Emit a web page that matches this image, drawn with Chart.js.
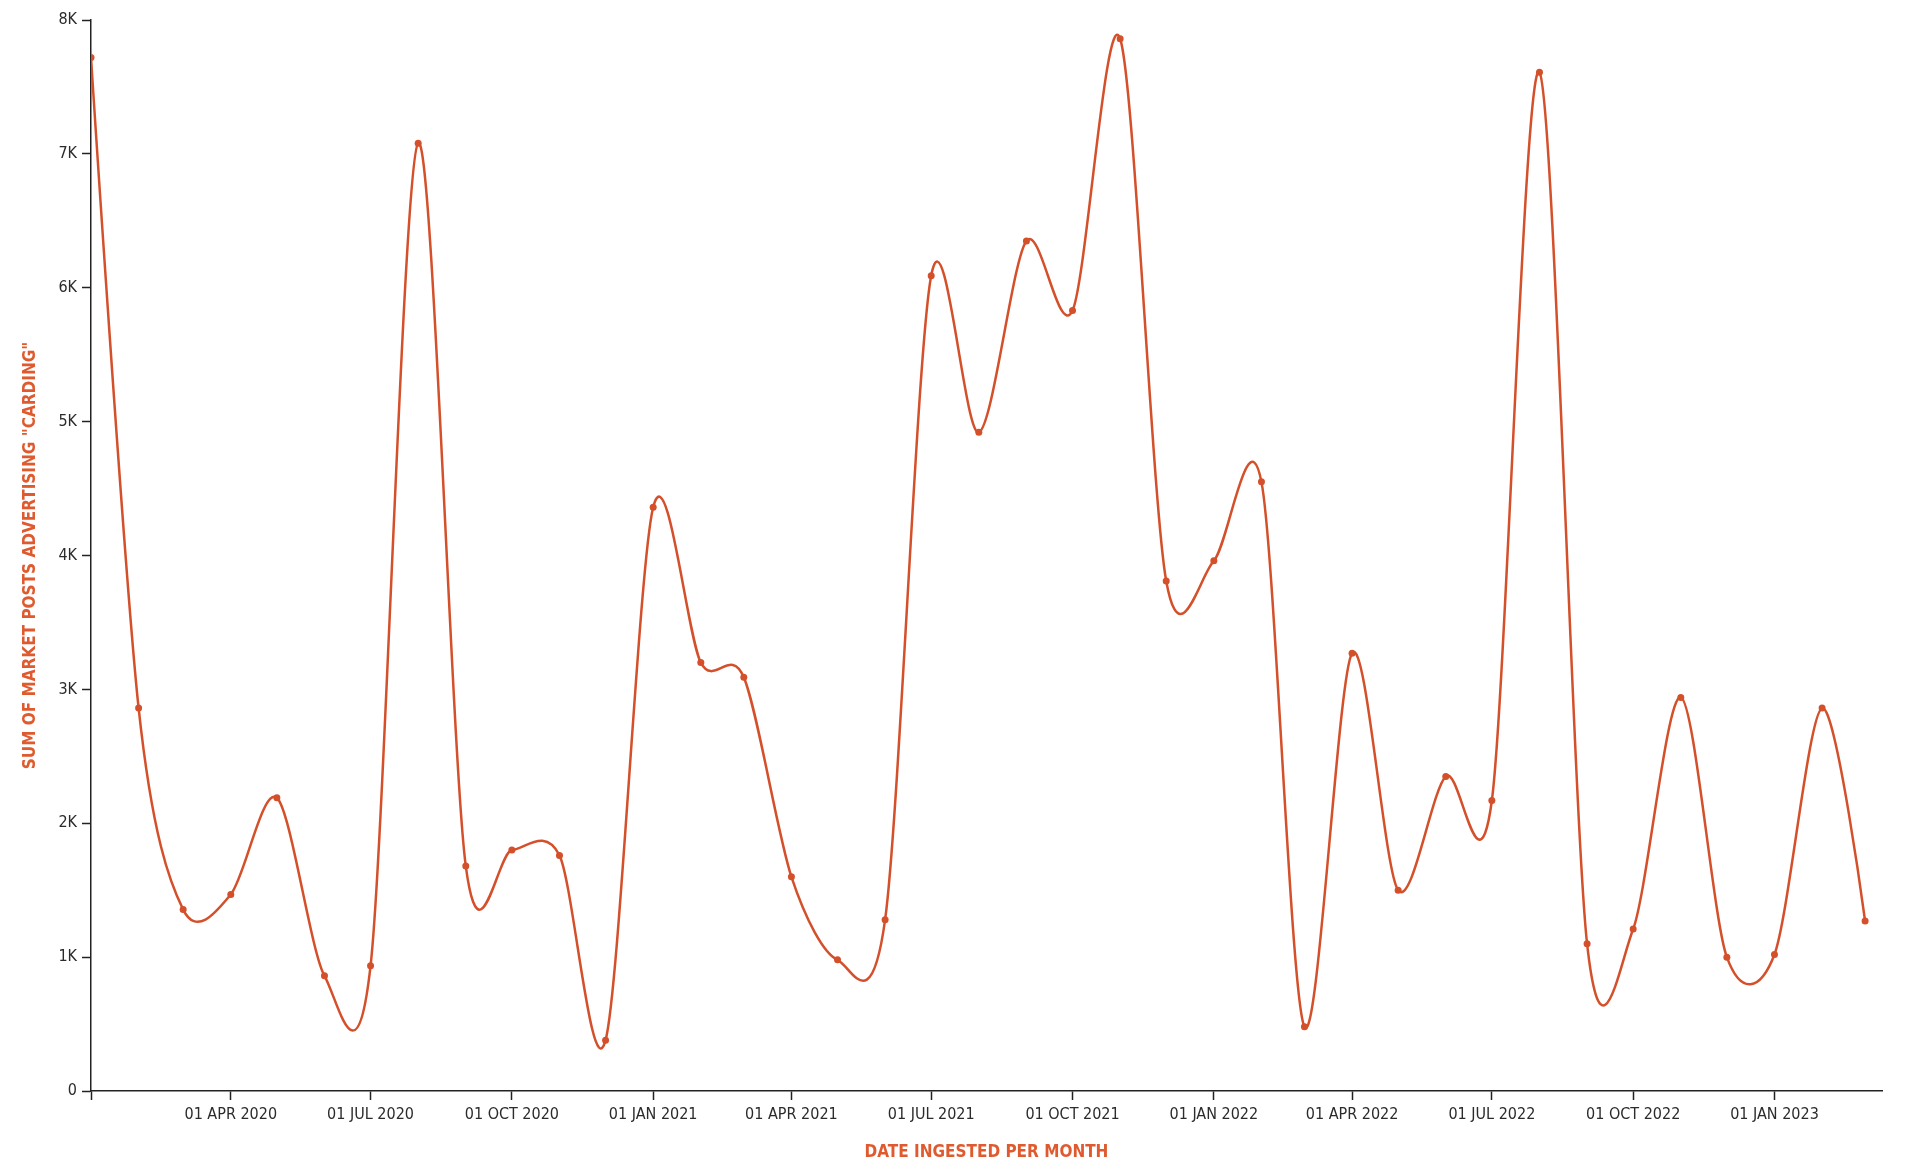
<!DOCTYPE html>
<html>
<head>
<meta charset="utf-8">
<script src="https://cdn.jsdelivr.net/npm/chart.js@4.4.1/dist/chart.umd.min.js"></script>
<style>
html,body{margin:0;padding:0;background:#fff;}
#wrap{width:1920px;height:1165px;position:relative;}
</style>
</head>
<body>
<div id="wrap"><canvas id="c" width="1920" height="1165"></canvas></div>
<script>
// ---- data ----
const months = [
  '2020-01','2020-02','2020-03','2020-04','2020-05','2020-06','2020-07','2020-08','2020-09','2020-10','2020-11','2020-12',
  '2021-01','2021-02','2021-03','2021-04','2021-05','2021-06','2021-07','2021-08','2021-09','2021-10','2021-11','2021-12',
  '2022-01','2022-02','2022-03','2022-04','2022-05','2022-06','2022-07','2022-08','2022-09','2022-10','2022-11','2022-12',
  '2023-01','2023-02','2023-03'
];
const postCounts = [
  7720, 2860, 1355, 1468, 2190, 860, 935, 7080, 1680, 1800, 1760, 380,
  4360, 3200, 3090, 1600, 980, 1280, 6090, 4920, 6350, 5830, 7860, 3810,
  3960, 4550, 480, 3270, 1500, 2350, 2170, 7610, 1100, 1210, 2940, 1000,
  1020, 2860, 1270
];
const xTickDates = ['2020-01-01','2020-04-01','2020-07-01','2020-10-01','2021-01-01','2021-04-01','2021-07-01',
  '2021-10-01','2022-01-01','2022-04-01','2022-07-01','2022-10-01','2023-01-01'];
const xTickLabels = ['', '01 APR 2020','01 JUL 2020','01 OCT 2020','01 JAN 2021','01 APR 2021','01 JUL 2021',
  '01 OCT 2021','01 JAN 2022','01 APR 2022','01 JUL 2022','01 OCT 2022','01 JAN 2023'];
const yTickValues = [0,1000,2000,3000,4000,5000,6000,7000,8000];
const yTickLabels = ['0','1K','2K','3K','4K','5K','6K','7K','8K'];
const xStartDate = '2020-01-01';
const xEndDate = '2023-03-12';

// ---- helpers ----
function dayOffset(s) {
  const p = s.split('-').map(Number);
  const d = Date.UTC(p[0], p[1] - 1, p[2] || 1);
  const q = xStartDate.split('-').map(Number);
  return Math.round((d - Date.UTC(q[0], q[1] - 1, q[2])) / 864e5);
}
const xTickDays = xTickDates.map(dayOffset);
const points = months.map((m, i) => ({ x: dayOffset(m), y: postCounts[i] }));

const LINE = '#d4502b';
const TITLE = '#df5a2e';
const AXIS = '#222';
const FONT = "'Liberation Sans Narrow', 'DejaVu Sans Condensed', 'Roboto Condensed', 'Liberation Sans', sans-serif";

// Cardinal spline (d3 curveCardinal-like) for the line path
const cardinalPlugin = {
  id: 'cardinal',
  beforeDatasetDraw(chart, args) {
    const line = args.meta.dataset;
    if (!line) return;
    const k = 0.15;
    line.updateControlPoints = function () {
      const pts = this.points || [];
      const n = pts.length;
      for (let i = 0; i < n; i++) {
        const p = pts[i];
        if (i === 0 || i === n - 1) {
          p.cp1x = p.x; p.cp1y = p.y; p.cp2x = p.x; p.cp2y = p.y;
        } else {
          const a = pts[i - 1], b = pts[i + 1];
          const dx = k * (b.x - a.x), dy = k * (b.y - a.y);
          p.cp1x = p.x - dx; p.cp1y = p.y - dy;
          p.cp2x = p.x + dx; p.cp2y = p.y + dy;
        }
      }
      this._pointsUpdated = true;
    };
  }
};

new Chart(document.getElementById('c'), {
  type: 'line',
  data: {
    datasets: [{
      data: points,
      borderColor: LINE,
      backgroundColor: LINE,
      borderWidth: 2.5,
      pointRadius: 3.5,
      pointBorderWidth: 0,
      pointBackgroundColor: LINE,
      tension: 0.4,
      fill: false
    }]
  },
  plugins: [cardinalPlugin],
  options: {
    responsive: false,
    animation: false,
    devicePixelRatio: 1,
    layout: { padding: { top: 20, right: 38, left: 0, bottom: 0 } },
    plugins: { legend: { display: false }, tooltip: { enabled: false } },
    scales: {
      x: {
        type: 'linear',
        min: 0,
        max: dayOffset(xEndDate),
        afterBuildTicks: (s) => { s.ticks = xTickDays.map(v => ({ value: v })); },
        afterFit: (s) => { s.height = 74; },
        grid: { display: true, drawOnChartArea: false, drawTicks: true, tickLength: 9, tickColor: AXIS, tickWidth: 1.5 },
        border: { display: true, color: AXIS, width: 1.5 },
        ticks: {
          autoSkip: false, maxRotation: 0, padding: 5,
          color: '#2b2b2b',
          font: { family: FONT, size: 16 },
          callback: (v) => { const i = xTickDays.indexOf(v); return i >= 0 ? xTickLabels[i] : ''; }
        },
        title: {
          display: true, text: 'DATE INGESTED PER MONTH', color: TITLE,
          font: { family: FONT, size: 17, weight: 'bold' },
          padding: { top: 0, bottom: 2 }
        }
      },
      y: {
        min: 0, max: 8000,
        afterBuildTicks: (s) => { s.ticks = yTickValues.map(v => ({ value: v })); },
        afterFit: (s) => { s.width = 91; },
        grid: { display: true, drawOnChartArea: false, drawTicks: true, tickLength: 9, tickColor: AXIS, tickWidth: 1.5 },
        border: { display: true, color: AXIS, width: 1.5 },
        ticks: {
          padding: 5, color: '#2b2b2b',
          font: { family: FONT, size: 16 },
          callback: (v) => { const i = yTickValues.indexOf(v); return i >= 0 ? yTickLabels[i] : ''; }
        },
        title: {
          display: true, text: 'SUM OF MARKET POSTS ADVERTISING "CARDING"', color: TITLE,
          font: { family: FONT, size: 17, weight: 'bold' },
          padding: { top: 20, bottom: 0 }
        }
      }
    }
  }
});
</script>
</body>
</html>
